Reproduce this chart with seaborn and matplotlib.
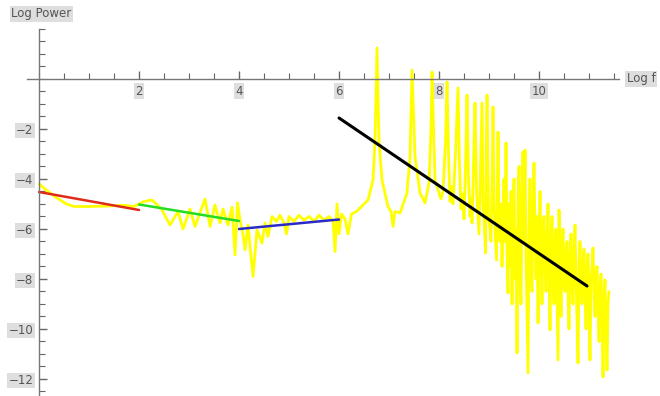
import seaborn as sns
import numpy as np
import matplotlib.pyplot as plt
from matplotlib.ticker import MultipleLocator

sns.set_style('white')

# spectrum (Log f, Log Power)
spec_x = [0.0, 0.15, 0.35, 0.55, 0.7, 1.0, 1.4, 1.7, 1.9, 2.0,
          2.1, 2.26, 2.45, 2.62, 2.78, 2.88, 3.02, 3.12, 3.32, 3.42, 3.52, 3.62, 3.68, 3.78, 3.86, 3.92, 3.97,
          4.02, 4.08, 4.12, 4.18, 4.28, 4.36, 4.46, 4.52, 4.58, 4.66, 4.75, 4.82, 4.9, 4.95, 5.0, 5.1, 5.2,
          5.3, 5.4, 5.5, 5.6, 5.7, 5.8, 5.88, 5.92, 5.96, 6.0, 6.05, 6.12, 6.18, 6.25, 6.35, 6.45, 6.58,
          6.68, 6.72, 6.76, 6.8, 6.86, 6.98, 7.04, 7.08, 7.12, 7.22, 7.36, 7.42, 7.46, 7.52, 7.62, 7.72,
          7.8, 7.84, 7.86, 7.89, 7.92, 7.98,
          8.04, 8.08, 8.13, 8.16, 8.19, 8.22, 8.25, 8.28, 8.33, 8.38, 8.41, 8.44, 8.47, 8.50, 8.53, 8.56,
          8.59, 8.62, 8.64, 8.66, 8.69, 8.72, 8.75, 8.78, 8.80, 8.83, 8.86, 8.88, 8.90, 8.93, 8.945, 8.96,
          8.99, 9.02, 9.04, 9.07, 9.08, 9.10, 9.12, 9.15, 9.17, 9.18, 9.20, 9.22, 9.24, 9.26, 9.28,
          9.30, 9.32, 9.34, 9.36, 9.38, 9.40, 9.42, 9.44, 9.46, 9.48, 9.50, 9.52, 9.54, 9.56, 9.58, 9.60,
          9.62, 9.64, 9.66, 9.68, 9.70, 9.72, 9.74, 9.76, 9.78, 9.80, 9.82, 9.84, 9.86, 9.88, 9.90, 9.92,
          9.94, 9.96, 9.98, 10.00, 10.02, 10.04, 10.06, 10.08, 10.10, 10.12, 10.14, 10.16, 10.18, 10.20,
          10.22, 10.24, 10.26, 10.28, 10.30, 10.32, 10.34, 10.36, 10.38, 10.40, 10.42, 10.44, 10.46, 10.48,
          10.50, 10.52, 10.54, 10.56, 10.58, 10.60, 10.62, 10.64, 10.66, 10.68, 10.70, 10.72, 10.74, 10.76,
          10.78, 10.80, 10.82, 10.84, 10.86, 10.88, 10.90, 10.92, 10.94, 10.96, 10.98, 11.00, 11.02, 11.04,
          11.06, 11.08, 11.10, 11.12, 11.14, 11.16, 11.18, 11.20, 11.22, 11.24, 11.26, 11.28, 11.30, 11.32,
          11.34, 11.36, 11.38, 11.40]
spec_y = [-4.2, -4.45, -4.75, -5.0, -5.1, -5.1, -5.08, -5.05, -5.1, -5.0,
          -4.9, -4.84, -5.2, -5.84, -5.3, -6.0, -5.2, -5.9, -4.8, -5.9, -5.04, -5.76, -5.2, -5.84, -5.12, -7.04, -4.95,
          -5.64, -6.2, -6.84, -5.84, -7.9, -6.04, -6.56, -5.76, -6.3, -5.5, -5.7, -5.45, -5.75, -6.2, -5.5, -5.7, -5.45,
          -5.65, -5.5, -5.7, -5.45, -5.65, -5.5, -5.7, -6.9, -5.0, -6.2, -5.4, -5.6, -6.2, -5.4, -5.3, -5.1, -4.84,
          -4.04, -2.5, 1.24, -2.5, -4.04, -5.1, -5.3, -5.9, -5.3, -5.36, -4.56, -3.1, 0.36, -3.1, -4.56, -4.96,
          -4.16, -2.0, 0.28, -2.0, -4.04, -4.44,
          -4.8, -4.5, -2.5, -0.12, -3.0, -4.9, -4.3, -5.0, -3.0, -0.36, -3.5, -5.2, -4.6, -5.6, -3.5, -0.64,
          -4.0, -5.5, -4.8, -5.76, -3.5, -0.96, -4.5, -5.5, -6.2, -3.5, -0.96, -5.0, -5.5, -6.96, -3.0, -0.64,
          -5.5, -6.0, -6.5, -3.0, -1.12, -5.0, -6.0, -7.24, -4.0, -2.12, -5.5, -6.5, -5.0, -7.5, -5.5,
          -4.0, -6.5, -2.56, -7.0, -8.56, -5.0, -7.5, -4.5, -9.0, -5.5, -4.0, -8.0, -6.0, -10.96, -5.0, -3.5,
          -7.5, -9.0, -4.5, -2.92, -6.5, -2.84, -7.0, -9.5, -11.76, -6.0, -4.0, -7.5, -8.5, -5.0, -3.36, -6.0,
          -8.0, -5.5, -9.76, -6.5, -4.5, -7.0, -9.0, -6.0, -5.5, -7.5, -8.5, -6.5, -5.0, -7.5,
          -10.04, -6.5, -5.5, -8.0, -9.0, -6.5, -6.0, -8.5, -11.24, -5.24, -7.0, -9.5, -7.0, -6.0,
          -8.0, -8.5, -7.0, -6.5, -8.5, -10.0, -7.0, -6.2, -8.0, -9.0, -7.0, -5.84, -8.0, -9.5,
          -11.36, -7.5, -6.5, -8.0, -9.0, -7.5, -6.8, -8.5, -10.0, -7.5, -7.0, -9.0, -11.24, -8.0,
          -7.5, -6.76, -8.5, -9.5, -8.0, -7.5, -9.0, -10.5, -8.5, -7.8, -9.5, -11.92, -9.0, -8.04,
          -10.0, -11.64, -9.0, -8.5]

# fitted segments
red_x, red_y = [0.0, 2.0], [-4.52, -5.24]
green_x, green_y = [2.0, 4.0], [-5.02, -5.68]
blue_x, blue_y = [4.0, 6.0], [-6.0, -5.62]
black_x, black_y = [6.0, 10.96], [-1.56, -8.28]

fig = plt.figure(figsize=(6.6, 3.96), dpi=100)
ax = fig.add_axes([0.0402, 0.0019, 0.8977, 0.9249])

sns.lineplot(x=spec_x, y=spec_y, sort=False, estimator=None, color='#ffff00', lw=2.0, ax=ax)
sns.lineplot(x=red_x, y=red_y, color='#e02a1a', lw=1.8, ax=ax)
sns.lineplot(x=green_x, y=green_y, color='#22dd22', lw=1.8, ax=ax)
sns.lineplot(x=blue_x, y=blue_y, color='#2a2ac8', lw=1.8, ax=ax)
sns.lineplot(x=black_x, y=black_y, color='black', lw=2.2, ax=ax)

ax.set_xlim(-0.25, 11.6)
ax.set_ylim(-12.65, 2.0)

for s in ['top', 'right']:
    ax.spines[s].set_visible(False)
ax.spines['left'].set_position(('data', 0))
ax.spines['bottom'].set_position(('data', 0))
for s in ['left', 'bottom']:
    ax.spines[s].set_color('#777777')
    ax.spines[s].set_linewidth(1.0)

ax.xaxis.set_major_locator(MultipleLocator(2))
ax.xaxis.set_minor_locator(MultipleLocator(0.5))
ax.yaxis.set_major_locator(MultipleLocator(2))
ax.yaxis.set_minor_locator(MultipleLocator(0.5))
ax.tick_params(which='both', bottom=True, left=True, direction='in', color='#666666')
ax.tick_params(which='major', length=6, width=1.0, labelsize=8.5, labelcolor='#555555', pad=4)
ax.tick_params(which='minor', length=4, width=0.8)

xt = [2, 4, 6, 8, 10]
yt = [-2, -4, -6, -8, -10, -12]
ax.set_xticks(xt)
ax.set_xticklabels([str(v) for v in xt])
ax.set_yticks(yt)
ax.set_yticklabels(['\u2212' + str(-v) for v in yt])
for lab in ax.get_xticklabels() + ax.get_yticklabels():
    lab.set_bbox(dict(facecolor='#dedede', edgecolor='none', pad=1))

ax.set_xlabel('')
ax.set_ylabel('')
ax.text(11.75, 0, 'Log f', fontsize=8.5, color='#555555', va='center', ha='left',
        bbox=dict(facecolor='#dedede', edgecolor='none', pad=1), clip_on=False)
ax.text(0.05, 2.6, 'Log Power', fontsize=8.5, color='#555555', va='center', ha='center',
        bbox=dict(facecolor='#dedede', edgecolor='none', pad=1), clip_on=False)

fig.savefig('out.png', dpi=100)
